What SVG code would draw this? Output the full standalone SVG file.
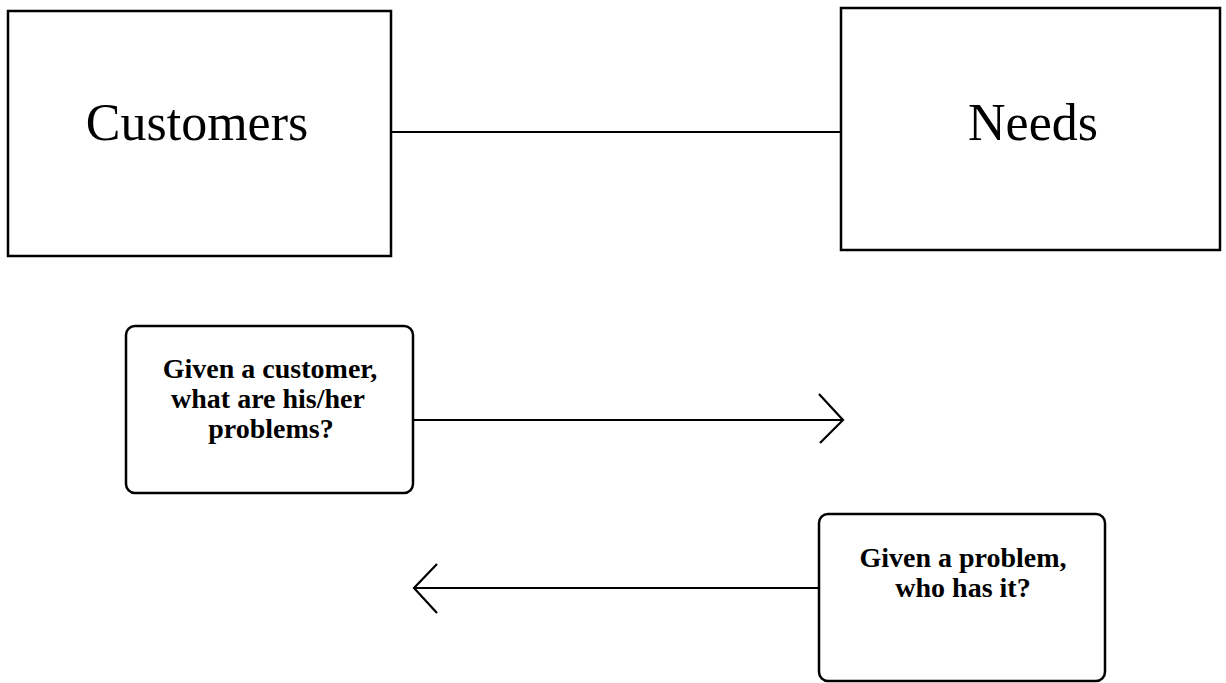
<svg xmlns="http://www.w3.org/2000/svg" width="1226" height="683" viewBox="0 0 1226 683">
  <style>
    .box { fill: #ffffff; stroke: #000000; stroke-width: 2.5; }
    .big { font-family: "Liberation Serif", "Times New Roman", serif; font-size: 52px; fill: #000000; text-anchor: middle; }
    .small { font-family: "Liberation Serif", "Times New Roman", serif; font-size: 28px; font-weight: bold; fill: #000000; text-anchor: middle; }
    .conn { fill: none; stroke: #000000; stroke-width: 2.2; }
  </style>
  <rect width="1226" height="683" fill="#ffffff"/>

  <!-- connectors -->
  <g id="connectors">
    <line class="conn" x1="391" y1="132" x2="841" y2="132"/>
    <line class="conn" x1="413" y1="420" x2="843" y2="420"/>
    <polyline class="conn" points="819,394 843,420 820,443"/>
    <line class="conn" x1="818" y1="588" x2="414" y2="588"/>
    <polyline class="conn" points="437,564 414,588 437,613"/>
  </g>

  <g id="customers">
    <rect class="box" x="8" y="11" width="383" height="245"/>
    <text class="big" x="197" y="140">Customers</text>
  </g>

  <g id="needs">
    <rect class="box" x="841" y="8" width="379" height="242"/>
    <text class="big" x="1033" y="140">Needs</text>
  </g>

  <g id="customer-question">
    <rect class="box" x="126" y="326" width="287" height="167" rx="9"/>
    <text class="small" x="270" y="378">Given a customer,</text>
    <text class="small" x="268" y="408">what are his/her</text>
    <text class="small" x="271" y="438">problems?</text>
  </g>

  <g id="problem-question">
    <rect class="box" x="819" y="514" width="286" height="167" rx="9"/>
    <text class="small" x="963" y="567">Given a problem,</text>
    <text class="small" x="963" y="597">who has it?</text>
  </g>
</svg>
